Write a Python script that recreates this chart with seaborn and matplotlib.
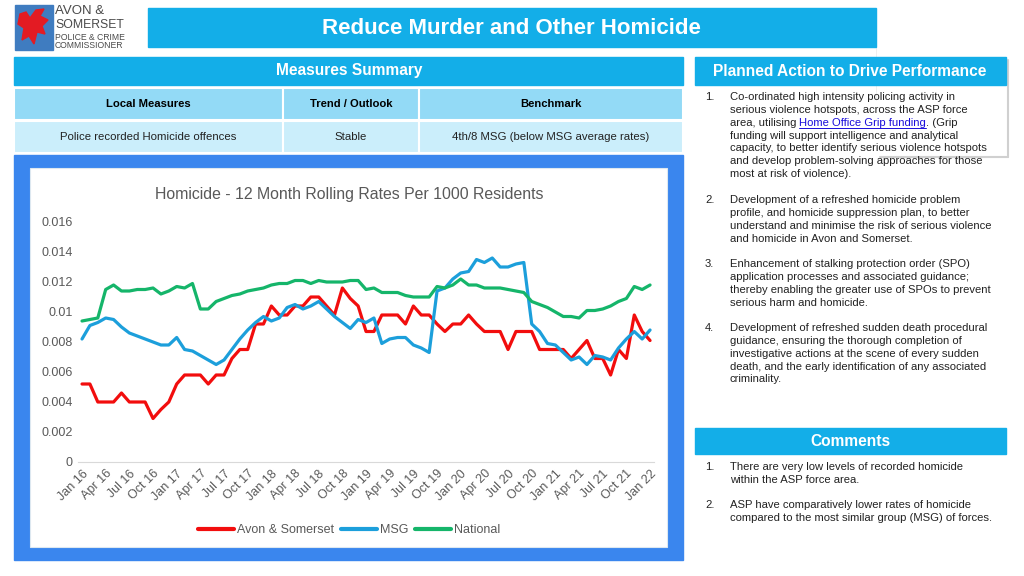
import numpy as np
import pandas as pd
import matplotlib
matplotlib.use("Agg")
import matplotlib.pyplot as plt
import seaborn as sns
from matplotlib.patches import Rectangle, Polygon
from matplotlib.lines import Line2D

# ---------------- dados ----------------
month_names = ["Jan", "Feb", "Mar", "Apr", "May", "Jun", "Jul", "Aug", "Sep", "Oct", "Nov", "Dec"]
months = [f"{m} {y}" for y in range(16, 22) for m in month_names] + ["Jan 22"]
tick_labels = [f"{m} {y}" for y in range(16, 22) for m in ["Jan", "Apr", "Jul", "Oct"]] + ["Jan 22"]

avon = [0.0052, 0.0052, 0.0040, 0.0040, 0.0040, 0.0046, 0.0040, 0.0040, 0.0040, 0.0029,
        0.0035, 0.0040, 0.0052, 0.0058, 0.0058, 0.0058, 0.0052, 0.0058, 0.0058, 0.0069,
        0.0075, 0.0075, 0.0092, 0.0092, 0.0104, 0.0098, 0.0098, 0.0104, 0.0104, 0.0110,
        0.0110, 0.0104, 0.0098, 0.0116, 0.0109, 0.0104, 0.0087, 0.0087, 0.0098, 0.0098,
        0.0098, 0.0092, 0.0104, 0.0098, 0.0098, 0.0092, 0.0087, 0.0092, 0.0092, 0.0098,
        0.0092, 0.0087, 0.0087, 0.0087, 0.0075, 0.0087, 0.0087, 0.0087, 0.0075, 0.0075,
        0.0075, 0.0075, 0.0069, 0.0075, 0.0081, 0.0069, 0.0069, 0.0058, 0.0075, 0.0069,
        0.0098, 0.0087, 0.0081]

msg = [0.0082, 0.0091, 0.0093, 0.0096, 0.0095, 0.0090, 0.0086, 0.0084, 0.0082, 0.0080,
       0.0078, 0.0078, 0.0083, 0.0075, 0.0074, 0.0071, 0.0068, 0.0065, 0.0068, 0.0075,
       0.0082, 0.0088, 0.0093, 0.0097, 0.0094, 0.0096, 0.0103, 0.0105, 0.0102, 0.0104,
       0.0107, 0.0102, 0.0097, 0.0093, 0.0089, 0.0095, 0.0093, 0.0096, 0.0079, 0.0082,
       0.0083, 0.0083, 0.0078, 0.0076, 0.0073, 0.0114, 0.0116, 0.0122, 0.0126, 0.0127,
       0.0135, 0.0133, 0.0136, 0.0130, 0.0130, 0.0132, 0.0133, 0.0092, 0.0087, 0.0079,
       0.0078, 0.0073, 0.0068, 0.0070, 0.0065, 0.0071, 0.0070, 0.0068, 0.0076, 0.0082,
       0.0087, 0.0082, 0.0088]

national = [0.0094, 0.0095, 0.0096, 0.0115, 0.0118, 0.0114, 0.0114, 0.0115, 0.0115, 0.0116,
            0.0112, 0.0114, 0.0117, 0.0116, 0.0119, 0.0102, 0.0102, 0.0107, 0.0109, 0.0111,
            0.0112, 0.0114, 0.0115, 0.0116, 0.0118, 0.0119, 0.0119, 0.0121, 0.0121, 0.0119,
            0.0121, 0.0120, 0.0120, 0.0120, 0.0121, 0.0121, 0.0115, 0.0116, 0.0113, 0.0113,
            0.0113, 0.0111, 0.0110, 0.0110, 0.0110, 0.0117, 0.0116, 0.0118, 0.0122, 0.0118,
            0.0118, 0.0116, 0.0116, 0.0116, 0.0115, 0.0114, 0.0113, 0.0107, 0.0105, 0.0103,
            0.0100, 0.0097, 0.0097, 0.0096, 0.0101, 0.0101, 0.0102, 0.0104, 0.0107, 0.0109,
            0.0117, 0.0115, 0.0118]

series_names = ["Avon & Somerset", "MSG", "National"]
series_colors = ["#F20D0D", "#1C9FDB", "#15B56A"]

y_ticks = [0, 0.002, 0.004, 0.006, 0.008, 0.01, 0.012, 0.014, 0.016]

table_cols = ["Local Measures", "Trend / Outlook", "Benchmark"]
table_row = ["Police recorded Homicide offences", "Stable", "4th/8 MSG (below MSG average rates)"]

action_items = [
    ["Co-ordinated high intensity policing activity in",
     "serious violence hotspots, across the ASP force",
     ("area, utilising", "Home Office Grip funding", ". (Grip"),
     "funding will support intelligence and analytical",
     "capacity, to better identify serious violence hotspots",
     "and develop problem-solving approaches for those",
     "most at risk of violence)."],
    ["Development of a refreshed homicide problem",
     "profile, and homicide suppression plan, to better",
     "understand and minimise the risk of serious violence",
     "and homicide in Avon and Somerset."],
    ["Enhancement of stalking protection order (SPO)",
     "application processes and associated guidance;",
     "thereby enabling the greater use of SPOs to prevent",
     "serious harm and homicide."],
    ["Development of refreshed sudden death procedural",
     "guidance, ensuring the thorough completion of",
     "investigative actions at the scene of every sudden",
     "death, and the early identification of any associated",
     "criminality."],
]
comments = [
    ["There are very low levels of recorded homicide",
     "within the ASP force area."],
    ["ASP have comparatively lower rates of homicide",
     "compared to the most similar group (MSG) of forces."],
]

df = pd.DataFrame({"idx": list(range(len(months))) * 3,
                   "valor": avon + msg + national,
                   "serie": sum([[n] * len(months) for n in series_names], [])})

# ---------------- estilo ----------------
sns.set_style("white")
plt.rcParams["font.family"] = ["Liberation Sans", "DejaVu Sans"]

CYAN = "#13AEE8"
FRAME = "#3A86EE"
GRAY = "#595959"
TXT = "#222222"

fig = plt.figure(figsize=(10.24, 5.76), dpi=100)
bg = fig.add_axes([0, 0, 1, 1])
bg.set_xlim(0, 1024)
bg.set_ylim(576, 0)
bg.axis("off")

# logo
bg.add_patch(Rectangle((15, 5), 38, 45, color="#3F7CC0"))
bg.add_patch(Polygon([(20, 14), (26, 12), (30, 18), (36, 10), (44, 9), (40, 16), (48, 20),
                      (42, 26), (45, 34), (37, 32), (34, 44), (29, 36), (22, 40), (24, 28),
                      (18, 24)], color="#E31B23"))
bg.text(55, 11, "AVON &", fontsize=9.5, color="#4A4A4A", va="center")
bg.text(55, 25, "SOMERSET", fontsize=8.8, color="#4A4A4A", va="center")
bg.text(55, 37, "POLICE & CRIME", fontsize=6.2, color="#4A4A4A", va="center")
bg.text(55, 46, "COMMISSIONER", fontsize=6.2, color="#4A4A4A", va="center")

# titulo
bg.add_patch(Rectangle((148, 8), 728, 39, color=CYAN))
bg.text(511, 28, "Reduce Murder and Other Homicide", fontsize=16, color="white",
        fontweight="bold", ha="center", va="center")

# tabela resumo
bg.add_patch(Rectangle((14, 57), 669, 28, color=CYAN))
bg.text(349, 71, "Measures Summary", fontsize=11.2, color="white", fontweight="bold",
        ha="center", va="center")
col_x = [14, 283, 419, 683]
for k in range(3):
    x0, x1 = col_x[k], col_x[k + 1]
    bg.add_patch(Rectangle((x0, 88), x1 - x0, 32, facecolor="#93DAF6", edgecolor="white", lw=1.5))
    bg.add_patch(Rectangle((x0, 121), x1 - x0, 32, facecolor="#CBEEFB", edgecolor="white", lw=1.5))
    bg.text((x0 + x1) / 2, 104, table_cols[k], fontsize=8.1, fontweight="bold",
            ha="center", va="center", color="black")
    bg.text((x0 + x1) / 2, 137, table_row[k], fontsize=8.2, ha="center", va="center", color=TXT)

# painel do grafico
bg.add_patch(Rectangle((14, 155), 669, 405, color=FRAME))
bg.add_patch(Rectangle((30, 168), 637, 379, facecolor="white", edgecolor="#DDE8F0", lw=0.8))
bg.text(349, 195, "Homicide - 12 Month Rolling Rates Per 1000 Residents", fontsize=11.4,
        color=GRAY, ha="center", va="center")

# grafico
ax = fig.add_axes([78 / 1024, (576 - 462) / 576, 576 / 1024, 240 / 576])
sns.lineplot(data=df, x="idx", y="valor", hue="serie", palette=series_colors,
             linewidth=2.3, ax=ax, legend=False)
ax.set_xlim(-0.51, 72.5)
ax.set_ylim(0, 0.016)
ax.set_yticks(y_ticks)
ax.set_yticklabels([f"{v:g}" for v in y_ticks])
ax.set_xticks(range(0, len(months), 3))
ax.set_xticklabels(tick_labels, rotation=45, ha="right", rotation_mode="anchor")
ax.tick_params(axis="both", length=0, labelsize=9, labelcolor=GRAY)
ax.tick_params(axis="x", pad=4)
ax.tick_params(axis="y", pad=4)
ax.set_xlabel("")
ax.set_ylabel("")
for s in ["top", "right", "left"]:
    ax.spines[s].set_visible(False)
ax.spines["bottom"].set_color("#D9D9D9")
ax.patch.set_alpha(0)

handles = [Line2D([0], [0], color=c, lw=3) for c in series_colors]
fig.legend(handles, series_names, loc="center", bbox_to_anchor=(349 / 1024, 1 - 530 / 576),
           ncol=3, frameon=False, fontsize=9, labelcolor=GRAY, handlelength=2.9,
           columnspacing=0.5, handletextpad=0.25)

# sombra da caixa sobreposta (atras do cabecalho)
bg.plot([876, 876], [47, 100], color="#EDEDED", lw=0.6, zorder=0)
bg.plot([1008, 1008], [60, 157], color="#D0D0D0", lw=1.5, zorder=0)
bg.plot([880, 1008], [157, 157], color="#D0D0D0", lw=1.5, zorder=0)

# painel direito
bg.add_patch(Rectangle((695, 57), 311, 28, color=CYAN, zorder=2))
bg.text(850, 71, "Planned Action to Drive Performance", fontsize=11.2, color="white",
        fontweight="bold", ha="center", va="center", zorder=3)

renderer = fig.canvas.get_renderer()
BODY = 8.1
LINE = 12.85


def draw_list(items, starts):
    for n, (lines, y0) in enumerate(zip(items, starts)):
        bg.text(705, y0, f"{n + 1}.", fontsize=BODY, va="center", color=TXT)
        for j, ln in enumerate(lines):
            y = y0 + j * LINE
            if isinstance(ln, tuple):
                t = bg.text(730, y, ln[0], fontsize=BODY, va="center", color=TXT)
                x1 = t.get_window_extent(renderer).x1 + 3
                t2 = bg.text(x1, y, ln[1], fontsize=BODY, va="center", color="#1A0DDB")
                x2 = t2.get_window_extent(renderer).x1
                bg.plot([x1, x2], [y + 5.5, y + 5.5], color="#1A0DDB", lw=0.7)
                bg.text(x2, y, ln[2], fontsize=BODY, va="center", color=TXT)
            else:
                bg.text(730, y, ln, fontsize=BODY, va="center", color=TXT)


draw_list(action_items, [97, 200, 264, 328])

bg.add_patch(Rectangle((695, 428), 311, 26, color=CYAN))
bg.text(850, 441, "Comments", fontsize=11.2, color="white", fontweight="bold",
        ha="center", va="center")
draw_list(comments, [467, 505])

fig.savefig("out.png", dpi=100)
